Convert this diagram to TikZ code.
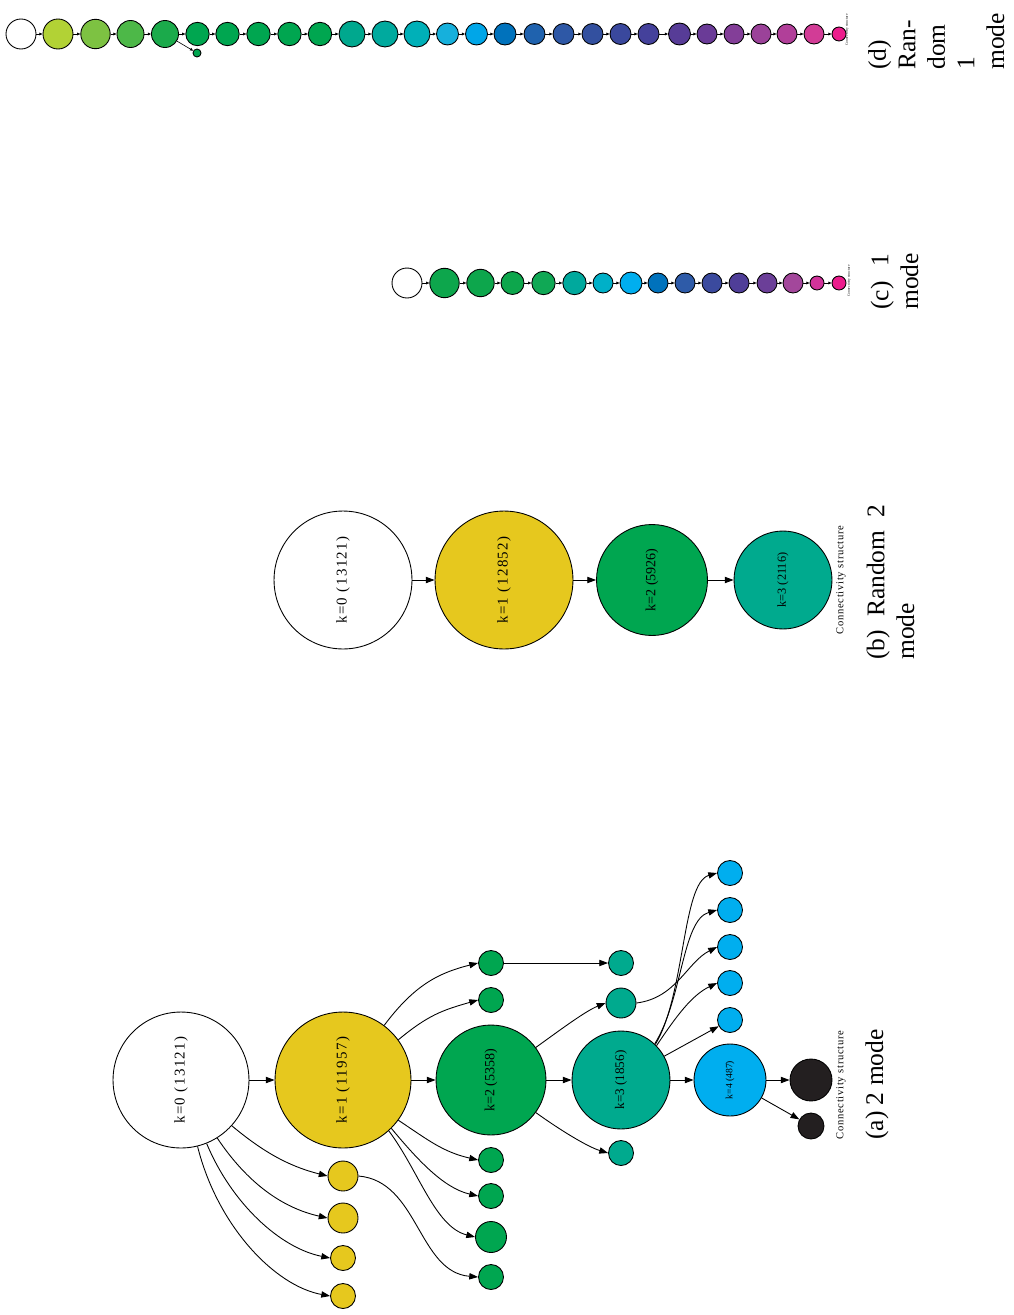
\documentclass[tikz,border=0pt]{standalone}
\usepackage{fontspec}
\setmainfont{Liberation Serif}
\usetikzlibrary{arrows.meta}

\definecolor{kyellow}{HTML}{E6C81E}
\definecolor{kgreen}{HTML}{00A650}
\definecolor{kteal}{HTML}{00AA8E}
\definecolor{kcyan}{HTML}{00AEEF}
\definecolor{kblack}{HTML}{231F20}

\tikzset{
  kstate/.style={circle, draw=black, line width=0.5pt, inner sep=0pt},
  rad/.style={minimum size=#1*0.04cm},
  bigfont/.style={font=\fontsize{8.5}{10}\selectfont\addfontfeature{LetterSpace=10}},
  conn/.style={line width=0.5pt, -{Triangle[length=5pt,width=3.6pt]}},
  tinyconn/.style={line width=0.35pt, -{Triangle[length=1.8pt,width=1.5pt]}},
  structlab/.style={rotate=90, inner sep=0pt, font=\fontsize{6}{7}\selectfont\addfontfeature{LetterSpace=7}},
  subcap/.style={rotate=90, anchor=base west, align=left, inner sep=0pt,
    font=\fontsize{14.5}{16.8}\selectfont},
}
\newcommand{\vlab}[1]{\rotatebox{90}{#1}}

\begin{document}
\begin{tikzpicture}[x=0.02cm, y=-0.02cm]
  \useasboundingbox (0,0) rectangle (1014,1315);

  % (a) 2 mode: main chain
  \node[kstate, fill=white, rad=68, bigfont] (a0) at (181,1080) {\vlab{k=0 (13121)}};
  \node[kstate, fill=kyellow, rad=68, bigfont] (a1) at (343,1080) {\vlab{k=1 (11957)}};
  \node[kstate, fill=kgreen, rad=55, font=\fontsize{8}{10}\selectfont] (a2) at (491,1080) {\vlab{k=2 (5358)}};
  \node[kstate, fill=kteal, rad=49, font=\fontsize{7.5}{9}\selectfont] (a3) at (621,1080) {\vlab{k=3 (1856)}};
  \node[kstate, fill=kcyan, rad=36, font=\fontsize{5.5}{7}\selectfont] (a4) at (730,1080) {\vlab{k=4 (487)}};
  \node[kstate, fill=kblack, rad=21] (a5) at (811,1080) {};
  \node[kstate, fill=kblack, rad=13] (a6) at (811,1126) {};

  % (a) side branches
  \foreach \n/\y/\r in {ay1/1176/15, ay2/1218/15, ay3/1258/12.5, ay4/1296/12.5}
    \node[kstate, fill=kyellow, rad=\r] (\n) at (343,\y) {};
  \foreach \n/\y/\r in {ag1/963/12.5, ag2/1000/12.5, ag3/1160/12.5, ag4/1196/12.5, ag5/1237/15.5, ag6/1277/12.5}
    \node[kstate, fill=kgreen, rad=\r] (\n) at (491,\y) {};
  \foreach \n/\y/\r in {at1/963/12.5, at2/1003/15, at3/1153/12.5}
    \node[kstate, fill=kteal, rad=\r] (\n) at (621,\y) {};
  \foreach \n/\y in {ab1/873, ab2/910, ab3/947, ab4/983, ab5/1020}
    \node[kstate, fill=kcyan, rad=12.5] (\n) at (730,\y) {};

  % (a) connectors
  \draw[conn] (a0) -- (a1);
  \draw[conn] (a1) -- (a2);
  \draw[conn] (a2) -- (a3);
  \draw[conn] (a3) -- (a4);
  \draw[conn] (a4) -- (a5);
  \draw[conn] (a4) -- (a6);
  \draw[conn] (a0.-42) .. controls +(30,25) and +(-40,-10) .. (ay1.west);
  \draw[conn] (a0.-58) .. controls +(30,45) and +(-45,-10) .. (ay2.west);
  \draw[conn] (a0.-68) .. controls +(25,60) and +(-50,-10) .. (ay3.west);
  \draw[conn] (a0.-76) .. controls +(20,80) and +(-55,-10) .. (ay4.west);
  \draw[conn] (a1.53) .. controls +(30,-40) and +(-40,10) .. (ag1.west);
  \draw[conn] (a1.36) .. controls +(30,-25) and +(-35,10) .. (ag2.west);
  \draw[conn] (a1.-36) .. controls +(30,20) and +(-35,-8) .. (ag3.west);
  \draw[conn] (a1.-45) .. controls +(25,30) and +(-35,-8) .. (ag4.west);
  \draw[conn] (a1.-48) .. controls +(30,40) and +(-40,-10) .. (ag5.west);
  \draw[conn] (ay1.east) .. controls +(60,5) and +(-60,-5) .. (ag6.west);
  \draw[conn] (ag1) -- (at1);
  \draw[conn] (a2.36) .. controls +(25,-18) and +(-20,8) .. (at2.west);
  \draw[conn] (a2.-36) .. controls +(25,18) and +(-20,-6) .. (at3.west);
  \draw[conn] (a3.46) .. controls +(30,-50) and +(-35,10) .. (ab1.west);
  \draw[conn] (a3.47) .. controls +(28,-45) and +(-35,10) .. (ab2.west);
  \draw[conn] (at2.east) .. controls +(40,-5) and +(-30,15) .. (ab3.west);
  \draw[conn] (a3.44) .. controls +(20,-30) and +(-25,12) .. (ab4.west);
  \draw[conn] (a3) -- (ab5);

  \node[structlab] (sa) at (841,1085) {Connectivity structure};
  \node[subcap] (capa) at (883,1140) {(a) 2 mode};

  % (b) Random 2 mode
  \node[kstate, fill=white, rad=69, bigfont] (r0) at (343,580) {\vlab{k=0 (13121)}};
  \node[kstate, fill=kyellow, rad=69, bigfont] (r1) at (504,580) {\vlab{k=1 (12852)}};
  \node[kstate, fill=kgreen, rad=55.5, font=\fontsize{8}{10}\selectfont] (r2) at (652,580) {\vlab{k=2 (5926)}};
  \node[kstate, fill=kteal, rad=49, font=\fontsize{7}{9}\selectfont] (r3) at (783,580) {\vlab{k=3 (2116)}};
  \draw[conn] (r0) -- (r1);
  \draw[conn] (r1) -- (r2);
  \draw[conn] (r2) -- (r3);
  \node[structlab] (sb) at (841,580) {Connectivity structure};
  \node[subcap] (capb) at (914,660) {\makebox[3.1cm][s]{(b) Random 2}\\mode};

  % (c) 1 mode
  \foreach \cx/\cr/\cc [count=\i] in {407/15/FFFFFF, 444.5/14.7/0DA64C, 480.5/13.7/0DA64C, 512.5/11.5/0DA64C,
      543.5/11.7/10A855, 574.5/11.7/00A99D, 603/10/00B0C8, 631/11/00AEEF, 658/10/0072BC, 685/10/2E5BA8,
      712/10/3B4A9E, 739/10/4F3E98, 767/10/6B3F98, 793/10/A3479B, 817/7/D1339A, 839/7/EC1C8C}{
    \definecolor{tmpc}{HTML}{\cc}
    \node[kstate, fill=tmpc, rad=\cr] (m\i) at (\cx,283) {};
  }
  \foreach \i [evaluate=\i as \j using int(\i+1)] in {1,...,15}
    \draw[tinyconn] (m\i) -- (m\j);
  \node[structlab, font=\fontsize{2}{2.4}\selectfont] (sc) at (849,281) {Connectivity structure};
  \node[subcap] (capc) at (918,310) {\makebox[1.12cm][s]{(c) 1}\\mode};

  % (d) Random 1 mode
  \foreach \cx/\cr/\cc [count=\i] in {21/15/FFFFFF, 58/15/B2D235, 95.5/14.7/7DC242, 130.5/13.5/4DB848,
      165/13.5/1BAA4B, 197.5/11.7/00A650, 227.5/11.7/00A650, 258.5/11.7/00A650, 289.5/11.7/00A650,
      320/11.7/00A650, 352/13/00A88E, 385/13/00AA9E, 417/13/00B0B8, 447.5/11/16B0DC, 476.5/11/00A6E8,
      505/11/0072BC, 534.5/10.5/1F62AE, 563.5/10.5/2E58A6, 592.5/10.5/33509F, 620.5/10.5/3A489D,
      648.5/10.5/44419B, 679.5/11/573C97, 707/10/6A3B97, 734/10/833E98, 761/10/9B4299, 787/10/B13F99,
      814/10/D23C96, 839/7/EC1C8C}{
    \definecolor{tmpc}{HTML}{\cc}
    \node[kstate, fill=tmpc, rad=\cr] (d\i) at (\cx,34) {};
  }
  \foreach \i [evaluate=\i as \j using int(\i+1)] in {1,...,27}
    \draw[tinyconn] (d\i) -- (d\j);
  \node[kstate, fill=kgreen, rad=4] (dx) at (197,53) {};
  \draw[tinyconn] (d5) -- (dx);
  \node[structlab, font=\fontsize{2}{2.4}\selectfont] (sd) at (847,30) {Connectivity structure};
  \node[subcap] (capd) at (1004,70) {(d)\\Ran-\\dom\\1\\mode};
\end{tikzpicture}
\end{document}
